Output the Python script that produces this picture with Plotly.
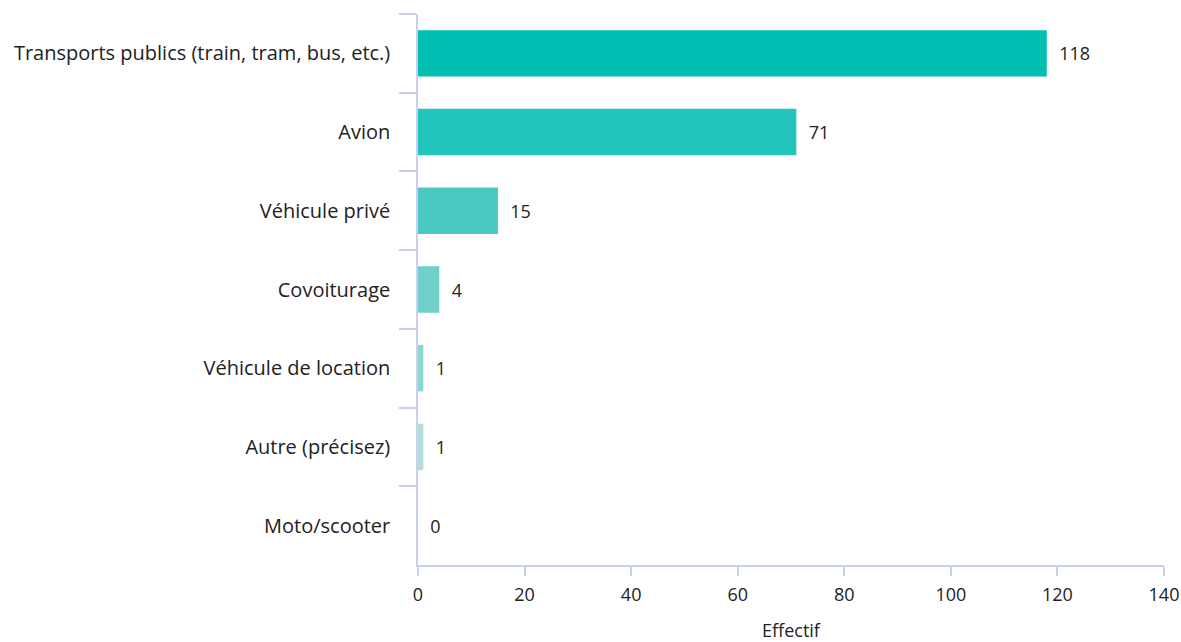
import plotly.graph_objects as go

categories = ["Transports publics (train, tram, bus, etc.)", "Avion", "Véhicule privé",
              "Covoiturage", "Véhicule de location", "Autre (précisez)", "Moto/scooter"]
values = [118, 71, 15, 4, 1, 1, 0]
colors = ["#00bfb3", "#22c4bc", "#4bcac3", "#6fcfc9", "#8fd6d1", "#b5dedb", "#d0ebe9"]
x_ticks = [0, 20, 40, 60, 80, 100, 120, 140]

axis_col = "#c9d1ee"
font = "Open Sans"

fig = go.Figure(go.Bar(
    x=values, y=categories, orientation="h",
    marker=dict(color=colors, line=dict(width=0)),
    width=0.59,
    text=["\u00a0\u00a0" + str(v) for v in values], textposition="outside",
    textfont=dict(size=18, color="#222", family=font),
    cliponaxis=False,
))

fig.update_layout(
    width=1181, height=642,
    margin=dict(l=418, r=17, t=14, b=77),
    plot_bgcolor="white", paper_bgcolor="white",
    font=dict(family=font, size=18, color="#222"),
    showlegend=False,
    xaxis=dict(range=[0, 140], tickvals=x_ticks, showgrid=False, zeroline=False,
               showline=True, linecolor=axis_col, linewidth=1.5,
               ticks="outside", ticklen=9, tickcolor=axis_col, tickwidth=1.5,
               ticklabelstandoff=4,
               automargin=False, tickfont=dict(size=18),
               title=dict(text="Effectif", standoff=25, font=dict(size=18))),
    yaxis=dict(type="category", range=[6.5, -0.5], showgrid=False, zeroline=False,
               showline=True, linecolor=axis_col, linewidth=1.5,
               ticks="outside", ticklen=17, tickcolor=axis_col, tickwidth=1.5,
               tickson="boundaries", ticklabelstandoff=22, automargin=False,
               tickfont=dict(size=20)),
)

fig.write_html("out.html",
               config={"displayModeBar": False},
               post_script="document.body.style.margin='0';document.body.style.overflow='hidden';")
